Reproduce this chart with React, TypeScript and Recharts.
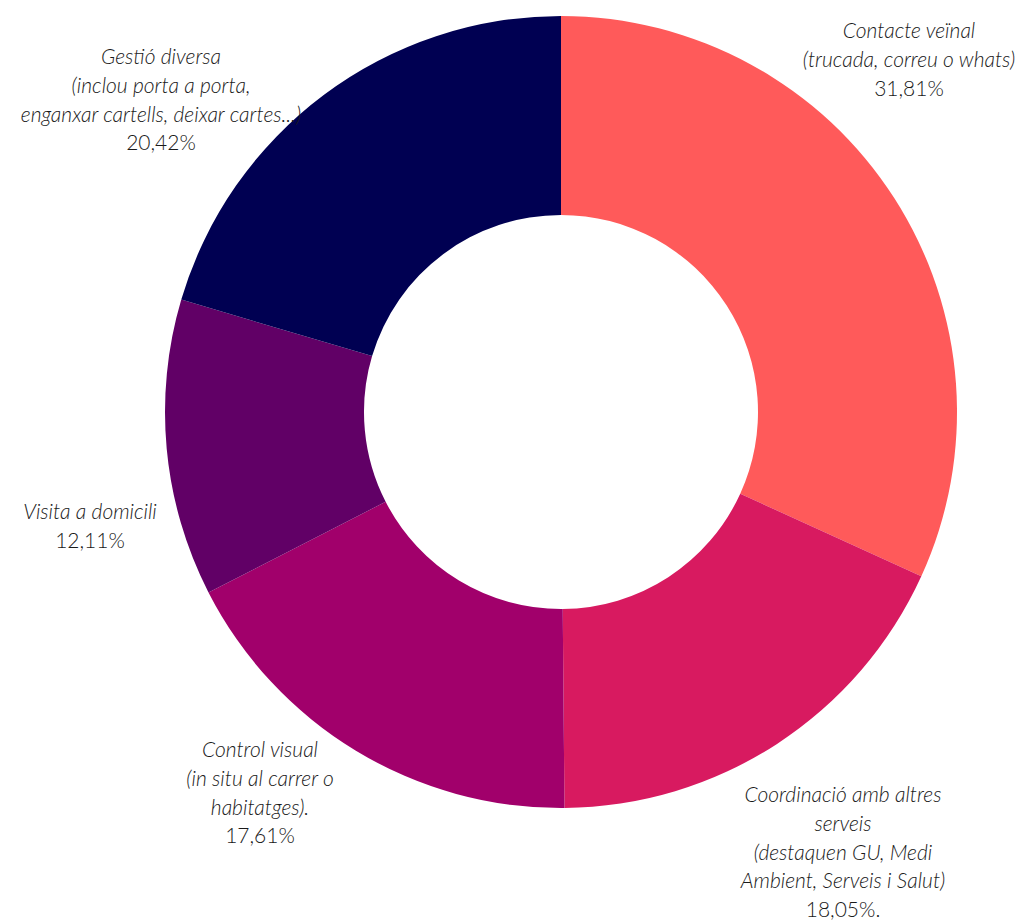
import { PieChart, Pie, Cell } from "recharts";

const categories = [
  "Contacte veïnal",
  "Coordinació amb altres serveis",
  "Control visual",
  "Visita a domicili",
  "Gestió diversa",
];
const shares = [31.81, 18.05, 17.61, 12.11, 20.42];
const labelLines = [
  ["Contacte veïnal", "(trucada, correu o whats)", "31,81%"],
  ["Coordinació amb altres", "serveis", "(destaquen GU, Medi", "Ambient, Serveis i Salut)", "18,05%."],
  ["Control visual", "(in situ al carrer o", "habitatges).", "17,61%"],
  ["Visita a domicili", "12,11%"],
  ["Gestió diversa", "(inclou porta a porta,", "enganxar cartells, deixar cartes...)", "20,42%"],
];
const colors = ["#ff5a5a", "#d81a60", "#a1006b", "#610066", "#000052"];

// label block anchors (centre x, first line y), chart coords
const labelPos = [
  { x: 901, y: 23 },
  { x: 835, y: 787 },
  { x: 252, y: 742 },
  { x: 82, y: 504 },
  { x: 153, y: 49 },
];

const data = categories.map((name, i) => ({ name, value: shares[i] }));

const W = 1016;
const H = 914;

function renderLabel(props: { index: number }) {
  const { index } = props;
  const pos = labelPos[index];
  const lines = labelLines[index];
  return (
    <text
      key={index}
      x={pos.x}
      y={pos.y}
      textAnchor="middle"
      fill="#1a1a1a"
      fontSize={21}
      fontFamily="Lato, 'Open Sans', sans-serif"
      fontWeight={300}
    >
      {lines.map((l, j) => (
        <tspan
          key={j}
          x={pos.x}
          dy={j === 0 ? "0.35em" : 28.7}
          fontStyle={j === lines.length - 1 ? "normal" : "italic"}
        >
          {l}
        </tspan>
      ))}
    </text>
  );
}

export default function App() {
  return (
    <div style={{ width: W, height: H, background: "#fff" }}>
      <PieChart width={W} height={H} margin={{ top: 0, right: 0, bottom: 0, left: 0 }}>
        <Pie
          data={data}
          dataKey="value"
          nameKey="name"
          cx={553}
          cy={404}
          innerRadius={197}
          outerRadius={396}
          startAngle={90}
          endAngle={-270}
          stroke="none"
          labelLine={false}
          label={renderLabel}
          isAnimationActive={false}
        >
          {data.map((d, i) => (
            <Cell key={d.name} fill={colors[i]} />
          ))}
        </Pie>
      </PieChart>
    </div>
  );
}
